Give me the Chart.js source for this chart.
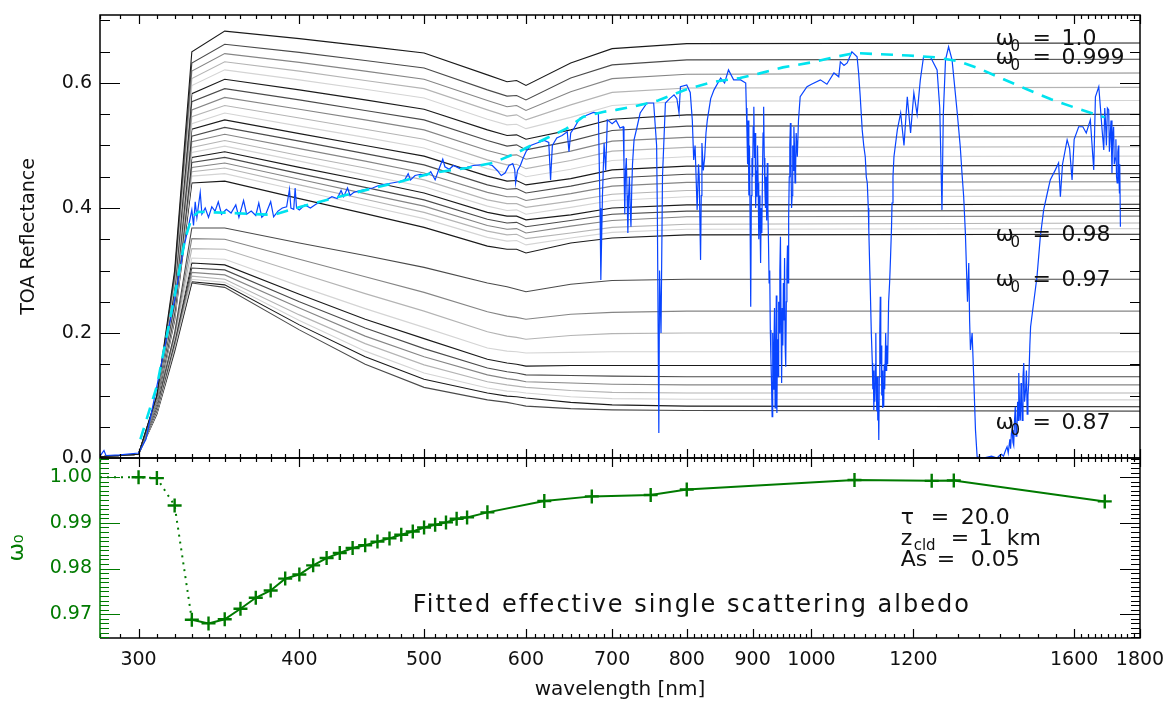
<!DOCTYPE html>
<html>
<head>
<meta charset="utf-8">
<script src="https://cdn.jsdelivr.net/npm/chart.js@4"></script>
<style>
  html, body { margin: 0; padding: 0; background: #fff; }
  canvas { display: block; }
</style>
</head>
<body>
<canvas id="albedo-chart" width="1164" height="705"></canvas>
<script>
// wavelengths of the modelled curves [nm]
const modelWl = [280, 300, 310, 320, 330, 350, 400, 450, 500, 560, 580, 590, 600, 650, 700, 800, 1800];

// modelled TOA reflectance, one curve per single scattering albedo
const r1000 = [0.002, 0.006, 0.100, 0.300, 0.650, 0.683, 0.671, 0.659, 0.648, 0.613, 0.602, 0.604, 0.596, 0.632, 0.655, 0.663, 0.664];
const r999  = [0.002, 0.006, 0.099, 0.293, 0.632, 0.662, 0.649, 0.636, 0.624, 0.589, 0.579, 0.580, 0.573, 0.608, 0.629, 0.637, 0.638];
const r998  = [0.002, 0.006, 0.099, 0.288, 0.619, 0.647, 0.633, 0.619, 0.606, 0.572, 0.562, 0.564, 0.556, 0.586, 0.607, 0.614, 0.616];
const r997  = [0.002, 0.006, 0.098, 0.284, 0.607, 0.634, 0.619, 0.604, 0.591, 0.557, 0.547, 0.549, 0.541, 0.565, 0.585, 0.592, 0.593];
const r996  = [0.002, 0.006, 0.097, 0.279, 0.596, 0.621, 0.605, 0.590, 0.576, 0.542, 0.533, 0.534, 0.527, 0.545, 0.564, 0.571, 0.572];
const r995  = [0.002, 0.006, 0.097, 0.274, 0.583, 0.606, 0.589, 0.573, 0.558, 0.525, 0.516, 0.517, 0.510, 0.525, 0.542, 0.549, 0.550];
const r994  = [0.002, 0.006, 0.096, 0.269, 0.570, 0.591, 0.573, 0.556, 0.541, 0.508, 0.499, 0.501, 0.493, 0.507, 0.524, 0.531, 0.532];
const r993  = [0.002, 0.006, 0.095, 0.265, 0.557, 0.577, 0.558, 0.541, 0.525, 0.492, 0.484, 0.485, 0.478, 0.491, 0.507, 0.513, 0.514];
const r992  = [0.002, 0.006, 0.095, 0.260, 0.546, 0.564, 0.544, 0.526, 0.510, 0.477, 0.469, 0.470, 0.463, 0.476, 0.491, 0.497, 0.498];
const r991  = [0.002, 0.006, 0.094, 0.256, 0.535, 0.552, 0.531, 0.513, 0.496, 0.463, 0.456, 0.457, 0.450, 0.462, 0.476, 0.482, 0.483];
const r990  = [0.002, 0.006, 0.094, 0.253, 0.526, 0.541, 0.519, 0.500, 0.483, 0.451, 0.443, 0.444, 0.437, 0.447, 0.461, 0.467, 0.468];
const r989  = [0.002, 0.006, 0.093, 0.249, 0.515, 0.529, 0.507, 0.487, 0.469, 0.437, 0.430, 0.431, 0.424, 0.435, 0.448, 0.454, 0.455];
const r988  = [0.002, 0.006, 0.092, 0.245, 0.506, 0.518, 0.495, 0.475, 0.456, 0.425, 0.418, 0.418, 0.412, 0.423, 0.435, 0.441, 0.442];
const r987  = [0.002, 0.006, 0.091, 0.242, 0.497, 0.508, 0.484, 0.464, 0.445, 0.413, 0.407, 0.407, 0.401, 0.411, 0.422, 0.428, 0.429];
const r986  = [0.002, 0.006, 0.090, 0.239, 0.489, 0.499, 0.475, 0.453, 0.434, 0.403, 0.396, 0.397, 0.390, 0.401, 0.412, 0.418, 0.419];
const r985  = [0.002, 0.006, 0.089, 0.236, 0.481, 0.490, 0.465, 0.444, 0.424, 0.393, 0.387, 0.387, 0.381, 0.389, 0.400, 0.405, 0.406];
const r984  = [0.002, 0.006, 0.088, 0.233, 0.473, 0.481, 0.455, 0.433, 0.413, 0.382, 0.376, 0.377, 0.370, 0.380, 0.390, 0.395, 0.396];
const r983  = [0.002, 0.006, 0.087, 0.230, 0.465, 0.472, 0.446, 0.423, 0.403, 0.372, 0.366, 0.367, 0.360, 0.371, 0.380, 0.386, 0.387];
const r982  = [0.002, 0.006, 0.086, 0.227, 0.458, 0.464, 0.437, 0.414, 0.393, 0.363, 0.357, 0.358, 0.351, 0.360, 0.369, 0.374, 0.376];
const r981  = [0.002, 0.006, 0.086, 0.224, 0.451, 0.455, 0.428, 0.404, 0.383, 0.353, 0.347, 0.348, 0.341, 0.352, 0.361, 0.366, 0.367];
const r980  = [0.002, 0.006, 0.085, 0.220, 0.440, 0.443, 0.415, 0.391, 0.369, 0.339, 0.334, 0.334, 0.328, 0.344, 0.352, 0.357, 0.358];
const r970  = [0.002, 0.006, 0.082, 0.200, 0.368, 0.368, 0.344, 0.324, 0.305, 0.280, 0.274, 0.270, 0.266, 0.278, 0.284, 0.286, 0.286];
const r960  = [0.002, 0.006, 0.081, 0.197, 0.351, 0.350, 0.318, 0.290, 0.265, 0.234, 0.227, 0.225, 0.222, 0.230, 0.233, 0.235, 0.235];
const r950  = [0.002, 0.006, 0.080, 0.194, 0.335, 0.334, 0.296, 0.263, 0.235, 0.202, 0.195, 0.193, 0.190, 0.196, 0.199, 0.200, 0.200];
const r940  = [0.002, 0.006, 0.079, 0.191, 0.320, 0.318, 0.275, 0.239, 0.209, 0.176, 0.171, 0.170, 0.168, 0.169, 0.170, 0.170, 0.170];
const r930  = [0.002, 0.006, 0.078, 0.188, 0.312, 0.309, 0.262, 0.222, 0.191, 0.158, 0.152, 0.150, 0.147, 0.148, 0.148, 0.148, 0.148];
const r920  = [0.002, 0.006, 0.077, 0.185, 0.304, 0.301, 0.250, 0.208, 0.175, 0.144, 0.138, 0.136, 0.133, 0.132, 0.131, 0.130, 0.130];
const r910  = [0.002, 0.006, 0.076, 0.182, 0.297, 0.293, 0.240, 0.195, 0.162, 0.133, 0.127, 0.125, 0.122, 0.120, 0.118, 0.117, 0.117];
const r900  = [0.002, 0.006, 0.074, 0.179, 0.291, 0.286, 0.229, 0.183, 0.149, 0.122, 0.117, 0.115, 0.113, 0.108, 0.105, 0.104, 0.104];
const r890  = [0.002, 0.006, 0.073, 0.176, 0.286, 0.281, 0.220, 0.171, 0.136, 0.112, 0.107, 0.106, 0.104, 0.098, 0.095, 0.094, 0.093];
const r880  = [0.002, 0.006, 0.072, 0.173, 0.282, 0.277, 0.213, 0.162, 0.126, 0.104, 0.099, 0.098, 0.096, 0.089, 0.085, 0.083, 0.082];
const r870  = [0.002, 0.006, 0.070, 0.170, 0.280, 0.273, 0.205, 0.150, 0.113, 0.093, 0.089, 0.086, 0.083, 0.079, 0.077, 0.076, 0.075];

const modelCurves = [r1000, r999, r998, r997, r996, r995, r994, r993, r992, r991, r990,
  r989, r988, r987, r986, r985, r984, r983, r982, r981, r980,
  r970, r960, r950, r940, r930, r920, r910, r900, r890, r880, r870];

// measured spectrum [wavelength nm, reflectance]
const measuredSpectrum = [
  [280, 0.003], [282, 0.012], [283, 0.004], [290, 0.005], [300, 0.008], [304, 0.030], [310, 0.115], [316, 0.200],
  [320, 0.253], [325, 0.333], [328, 0.370], [330, 0.397], [331, 0.372], [332, 0.410], [333, 0.385], [335, 0.425],
  [336, 0.390], [338, 0.400], [340, 0.385], [342, 0.402], [344, 0.395], [346, 0.410], [348, 0.390], [351, 0.398],
  [354, 0.392], [357, 0.405], [359, 0.385], [362, 0.412], [364, 0.390], [367, 0.395], [370, 0.388], [372, 0.408],
  [374, 0.385], [377, 0.392], [380, 0.410], [382, 0.386], [385, 0.395], [388, 0.400], [391, 0.402], [393, 0.430],
  [394, 0.400], [396, 0.398], [397, 0.432], [398, 0.400], [400, 0.397], [404, 0.405], [408, 0.400], [412, 0.406],
  [416, 0.410], [420, 0.413], [424, 0.418], [428, 0.415], [431, 0.428], [433, 0.418], [436, 0.432], [438, 0.420],
  [441, 0.425], [446, 0.428], [451, 0.430], [456, 0.432], [461, 0.436], [466, 0.438], [472, 0.440], [478, 0.442],
  [483, 0.445], [486, 0.455], [488, 0.445], [492, 0.452], [497, 0.454], [502, 0.452], [506, 0.458], [510, 0.445],
  [513, 0.460], [517, 0.478], [519, 0.466], [523, 0.462], [527, 0.468], [533, 0.463], [540, 0.465], [546, 0.468],
  [553, 0.469], [560, 0.470], [565, 0.468], [570, 0.460], [574, 0.452], [578, 0.456], [582, 0.468], [586, 0.471],
  [588, 0.462], [589, 0.440], [591, 0.460], [594, 0.468], [597, 0.480], [600, 0.490], [605, 0.500], [612, 0.504],
  [620, 0.508], [625, 0.505], [627, 0.445], [629, 0.500], [634, 0.512], [640, 0.516], [646, 0.522], [648, 0.490],
  [650, 0.520], [654, 0.528], [661, 0.544], [668, 0.548], [677, 0.553], [683, 0.552], [685, 0.400], [686, 0.285],
  [688, 0.420], [690, 0.504], [692, 0.460], [694, 0.541], [700, 0.535], [705, 0.540], [710, 0.528], [714, 0.530],
  [715, 0.470], [716, 0.390], [717, 0.460], [718, 0.480], [719, 0.420], [720, 0.360], [721, 0.420], [722, 0.450],
  [723, 0.400], [724, 0.370], [725, 0.430], [726, 0.470], [727, 0.490], [728, 0.509], [732, 0.530], [736, 0.552],
  [745, 0.568], [754, 0.568], [758, 0.500], [759, 0.392], [761, 0.040], [762, 0.300], [764, 0.200], [766, 0.450],
  [770, 0.568], [776, 0.575], [782, 0.581], [786, 0.575], [789, 0.552], [791, 0.594], [800, 0.597], [805, 0.585],
  [808, 0.540], [810, 0.477], [812, 0.500], [815, 0.397], [817, 0.470], [818, 0.450], [820, 0.317], [821, 0.420],
  [822, 0.504], [824, 0.460], [826, 0.480], [828, 0.520], [830, 0.541], [835, 0.575], [840, 0.589], [850, 0.608],
  [856, 0.600], [862, 0.621], [870, 0.605], [881, 0.605], [889, 0.600], [890, 0.560], [891, 0.520], [892, 0.470],
  [893, 0.540], [894, 0.420], [895, 0.500], [896, 0.380], [897, 0.242], [898, 0.420], [899, 0.480], [900, 0.450],
  [901, 0.530], [902, 0.562], [903, 0.480], [904, 0.520], [905, 0.400], [906, 0.460], [907, 0.418], [908, 0.500],
  [909, 0.440], [910, 0.350], [911, 0.420], [912, 0.380], [913, 0.312], [914, 0.400], [915, 0.360], [916, 0.450],
  [917, 0.520], [918, 0.562], [919, 0.480], [920, 0.430], [921, 0.400], [922, 0.450], [923, 0.380], [924, 0.472],
  [925, 0.400], [926, 0.344], [927, 0.280], [928, 0.300], [929, 0.205], [930, 0.160], [931, 0.120], [932, 0.066],
  [933, 0.200], [934, 0.110], [935, 0.170], [936, 0.240], [937, 0.080], [938, 0.150], [939, 0.260], [940, 0.072],
  [941, 0.190], [942, 0.130], [943, 0.250], [944, 0.200], [945, 0.300], [946, 0.354], [947, 0.220], [948, 0.120],
  [949, 0.240], [950, 0.180], [951, 0.280], [952, 0.220], [953, 0.320], [954, 0.180], [955, 0.146], [956, 0.250],
  [957, 0.300], [958, 0.340], [959, 0.280], [960, 0.386], [961, 0.450], [962, 0.500], [963, 0.536], [964, 0.470],
  [965, 0.400], [966, 0.420], [967, 0.500], [968, 0.460], [969, 0.530], [970, 0.500], [971, 0.440], [972, 0.460],
  [973, 0.520], [975, 0.482], [977, 0.540], [980, 0.578], [992, 0.594], [1000, 0.598], [1016, 0.605], [1028, 0.598],
  [1041, 0.616], [1050, 0.610], [1053, 0.634], [1060, 0.628], [1066, 0.632], [1075, 0.650], [1085, 0.642], [1088, 0.616],
  [1091, 0.580], [1095, 0.525], [1098, 0.500], [1101, 0.482], [1103, 0.450], [1105, 0.440], [1107, 0.400], [1108, 0.365],
  [1110, 0.300], [1111, 0.269], [1113, 0.200], [1115, 0.152], [1116, 0.110], [1117, 0.140], [1118, 0.077], [1119, 0.120],
  [1120, 0.090], [1121, 0.150], [1122, 0.200], [1123, 0.110], [1124, 0.075], [1125, 0.130], [1126, 0.060], [1127, 0.090],
  [1128, 0.029], [1129, 0.130], [1130, 0.200], [1131, 0.258], [1132, 0.150], [1133, 0.180], [1134, 0.100], [1135, 0.140],
  [1136, 0.080], [1137, 0.120], [1138, 0.082], [1139, 0.150], [1140, 0.110], [1142, 0.200], [1143, 0.140], [1144, 0.180],
  [1146, 0.150], [1148, 0.250], [1150, 0.280], [1152, 0.322], [1154, 0.370], [1155, 0.408], [1157, 0.450], [1159, 0.482],
  [1166, 0.525], [1173, 0.552], [1180, 0.500], [1187, 0.578], [1194, 0.520], [1201, 0.584], [1208, 0.550], [1215, 0.605],
  [1222, 0.642], [1237, 0.642], [1252, 0.621], [1258, 0.560], [1263, 0.397], [1266, 0.550], [1271, 0.637], [1278, 0.658],
  [1286, 0.637], [1298, 0.552], [1305, 0.498], [1309, 0.456], [1313, 0.418], [1317, 0.360], [1322, 0.250], [1325, 0.312],
  [1327, 0.220], [1329, 0.173], [1333, 0.200], [1337, 0.125], [1341, 0.045], [1345, 0.002], [1360, 0.000], [1380, 0.003],
  [1394, 0.000], [1400, 0.004], [1405, 0.006], [1410, 0.003], [1415, 0.012], [1419, 0.018], [1422, 0.008], [1426, 0.030],
  [1428, 0.015], [1430, 0.040], [1432, 0.045], [1434, 0.025], [1436, 0.020], [1438, 0.060], [1440, 0.082], [1442, 0.035],
  [1444, 0.040], [1446, 0.090], [1448, 0.060], [1449, 0.136], [1451, 0.080], [1453, 0.060], [1455, 0.120], [1456, 0.100],
  [1458, 0.060], [1460, 0.130], [1462, 0.152], [1464, 0.090], [1467, 0.110], [1469, 0.140], [1471, 0.070], [1473, 0.100],
  [1475, 0.120], [1478, 0.180], [1480, 0.210], [1488, 0.248], [1497, 0.290], [1506, 0.354], [1515, 0.397], [1525, 0.424],
  [1533, 0.445], [1547, 0.461], [1556, 0.472], [1561, 0.418], [1567, 0.470], [1580, 0.509], [1587, 0.495], [1594, 0.445],
  [1600, 0.510], [1613, 0.530], [1625, 0.530], [1635, 0.520], [1647, 0.541], [1657, 0.461], [1662, 0.578], [1672, 0.594],
  [1677, 0.560], [1682, 0.525], [1687, 0.493], [1690, 0.560], [1692, 0.540], [1695, 0.500], [1698, 0.560], [1702, 0.557],
  [1704, 0.490], [1707, 0.520], [1709, 0.540], [1712, 0.456], [1714, 0.510], [1717, 0.530], [1719, 0.470], [1722, 0.480],
  [1724, 0.510], [1726, 0.450], [1728, 0.440], [1730, 0.490], [1732, 0.500], [1733, 0.460], [1735, 0.424], [1736, 0.470],
  [1738, 0.370]
];

// continuum through the window points (dashed cyan)
const continuum = [
  [301, 0.030], [310, 0.115], [320, 0.260], [326, 0.350], [330, 0.385], [334, 0.394], [354, 0.392], [382, 0.389],
  [401, 0.402], [426, 0.416], [451, 0.429], [479, 0.442], [507, 0.456], [540, 0.464], [565, 0.472], [590, 0.488],
  [600, 0.496], [620, 0.510], [645, 0.527], [665, 0.546], [690, 0.554], [705, 0.557], [730, 0.563], [760, 0.572],
  [800, 0.590], [840, 0.602], [880, 0.608], [910, 0.615], [950, 0.625], [1000, 0.633], [1040, 0.641], [1080, 0.648],
  [1130, 0.646], [1190, 0.644], [1250, 0.641], [1300, 0.635], [1350, 0.623], [1410, 0.606], [1470, 0.590], [1535, 0.574],
  [1600, 0.561], [1690, 0.545]
];

// fitted effective single scattering albedo (lower panel)
const omegaWl  = [280, 300, 310, 320, 330, 340, 350, 360, 370, 380, 390, 400, 410, 420, 430, 440, 450, 460,
                  470, 480, 490, 500, 510, 520, 530, 540, 560, 620, 675, 750, 800, 1080, 1240, 1290, 1690];
const omegaFit = [1.0000, 1.0000, 0.9998, 0.9938, 0.9688, 0.9680, 0.9689, 0.9712, 0.9736, 0.9752, 0.9778, 0.9787,
                  0.9807, 0.9823, 0.9834, 0.9845, 0.9851, 0.9859, 0.9866, 0.9874, 0.9881, 0.9890, 0.9896, 0.9901,
                  0.9909, 0.9912, 0.9923, 0.9948, 0.9958, 0.9961, 0.9973, 0.9994, 0.9992, 0.9993, 0.9947];

// axis ticks
const xTickValues = [300, 400, 500, 600, 700, 800, 900, 1000, 1200, 1600, 1800];
const reflTicks = [0.0, 0.2, 0.4, 0.6];
const omegaTicks = [0.97, 0.98, 0.99, 1.00];

// curve labels
const curveLabels = [
  { text: '1.0', y: 0.670 },
  { text: '0.999', y: 0.640 },
  { text: '0.98', y: 0.357 },
  { text: '0.97', y: 0.285 },
  { text: '0.87', y: 0.056 }
];

const greys = ['#1a1a1a', '#4a4a4a', '#858585', '#b4b4b4', '#d4d4d4'];
const green = '#007a00';
const fontFamily = '"DejaVu Sans", "Liberation Sans", sans-serif';
Chart.defaults.font.family = fontFamily;

// minor ticks of the wavelength axis
const xMinorTicks = [];
for (let w = 280; w < 1000; w += 10) xMinorTicks.push(w);
for (let w = 1020; w < 1200; w += 20) xMinorTicks.push(w);
for (let w = 1250; w < 1600; w += 50) xMinorTicks.push(w);
for (let w = 1620; w < 1800; w += 20) xMinorTicks.push(w);

const datasets = [];
datasets.push({
  data: omegaWl.map((w, k) => ({ x: w, y: omegaFit[k] })),
  yAxisID: 'yOmega',
  borderColor: green,
  borderWidth: 2,
  pointStyle: 'cross',
  pointRadius: ctx => ctx.dataIndex === 0 ? 0 : 7,
  pointBorderColor: green,
  pointBorderWidth: 2.4,
  segment: { borderDash: ctx => ctx.p1DataIndex <= 4 ? [2, 5] : undefined },
  order: 0
});
datasets.push({
  data: continuum.map(p => ({ x: p[0], y: p[1] })),
  yAxisID: 'y',
  borderColor: '#00e3ee',
  borderWidth: 2.6,
  borderDash: [12, 9],
  pointRadius: 0,
  order: 1
});
datasets.push({
  data: measuredSpectrum.map(p => ({ x: p[0], y: p[1] })),
  yAxisID: 'y',
  borderColor: '#0844ff',
  borderWidth: 1.2,
  pointRadius: 0,
  order: 2
});
modelCurves.forEach((vals, i) => {
  datasets.push({
    data: vals.map((v, k) => ({ x: modelWl[k], y: v })),
    yAxisID: 'y',
    borderColor: greys[i % 5],
    borderWidth: 1.1,
    pointRadius: 0,
    order: 3
  });
});

// IDL-style frame with inward ticks on every side
const idlFrame = {
  id: 'idlFrame',
  afterDraw(chart) {
    const { ctx, chartArea: { left, right }, scales: { x, y, yOmega } } = chart;
    ctx.save();
    ctx.lineWidth = 1.2;
    ctx.strokeStyle = '#000';
    ctx.beginPath();
    const edges = [[y.top, 1], [y.bottom, -1], [yOmega.top, 1], [yOmega.bottom, -1]];
    for (const [edge, dir] of edges) {
      for (const v of xMinorTicks) {
        const px = Math.round(x.getPixelForValue(v)) + 0.5;
        ctx.moveTo(px, edge); ctx.lineTo(px, edge + dir * 4);
      }
      for (const v of xTickValues) {
        const px = Math.round(x.getPixelForValue(v)) + 0.5;
        ctx.moveTo(px, edge); ctx.lineTo(px, edge + dir * 9);
      }
    }
    for (let k = 1; k <= 14; k++) {
      const py = Math.round(y.getPixelForValue(k * 0.05)) + 0.5;
      const len = k % 4 === 0 ? 20 : 10;
      ctx.moveTo(left, py); ctx.lineTo(left + len, py);
      ctx.moveTo(right, py); ctx.lineTo(right - len, py);
    }
    for (let k = 965; k <= 1004; k++) {
      const py = Math.round(yOmega.getPixelForValue(k / 1000)) + 0.5;
      const len = k % 10 === 0 ? 20 : 9;
      ctx.moveTo(right, py); ctx.lineTo(right - len, py);
    }
    ctx.stroke();

    ctx.lineWidth = 1.5;
    ctx.strokeRect(left, y.top, right - left, y.bottom - y.top);
    ctx.beginPath();
    ctx.moveTo(left, yOmega.top); ctx.lineTo(right, yOmega.top);
    ctx.lineTo(right, yOmega.bottom); ctx.lineTo(left, yOmega.bottom);
    ctx.stroke();

    ctx.strokeStyle = green;
    ctx.beginPath();
    ctx.moveTo(left, yOmega.top); ctx.lineTo(left, yOmega.bottom);
    ctx.stroke();
    ctx.lineWidth = 1.2;
    ctx.beginPath();
    for (let k = 965; k <= 1004; k++) {
      const py = Math.round(yOmega.getPixelForValue(k / 1000)) + 0.5;
      const len = k % 10 === 0 ? 20 : 9;
      ctx.moveTo(left, py); ctx.lineTo(left + len, py);
    }
    ctx.stroke();
    ctx.restore();
  }
};

// text annotations inside both panels
const annotations = {
  id: 'annotations',
  afterDraw(chart) {
    const { ctx, scales: { x, y, yOmega } } = chart;
    ctx.save();
    ctx.fillStyle = '#111';
    ctx.textBaseline = 'middle';
    const big = '22px ' + fontFamily;
    const small = '15px ' + fontFamily;

    const lx = x.getPixelForValue(1390);
    for (const lab of curveLabels) {
      const py = y.getPixelForValue(lab.y);
      ctx.font = big;
      ctx.fillText('ω', lx, py);
      ctx.font = small;
      ctx.fillText('0', lx + 15, py + 8);
      ctx.font = big;
      ctx.fillText('=', lx + 37, py);
      ctx.fillText(lab.text, lx + 66, py);
    }

    const tx = x.getPixelForValue(1173);
    ctx.font = big;
    let py = yOmega.getPixelForValue(0.9911);
    ctx.fillText('τ', tx, py);
    ctx.fillText('=', tx + 30, py);
    ctx.fillText('20.0', tx + 60, py);
    py = yOmega.getPixelForValue(0.9863);
    ctx.fillText('z', tx, py);
    ctx.font = small;
    ctx.fillText('cld', tx + 13, py + 6);
    ctx.font = big;
    ctx.fillText('=', tx + 50, py);
    ctx.fillText('1  km', tx + 78, py);
    py = yOmega.getPixelForValue(0.9819);
    ctx.fillText('As', tx, py);
    ctx.fillText('=', tx + 36, py);
    ctx.fillText('0.05', tx + 70, py);

    ctx.font = '24px ' + fontFamily;
    ctx.letterSpacing = '2px';
    ctx.fillText('Fitted effective single scattering albedo', x.getPixelForValue(490), yOmega.getPixelForValue(0.9718));
    ctx.restore();
  }
};

new Chart(document.getElementById('albedo-chart'), {
  type: 'line',
  data: { datasets },
  options: {
    responsive: false,
    animation: false,
    devicePixelRatio: 1,
    layout: { padding: { top: 15, right: 24, left: 0, bottom: 0 } },
    plugins: { legend: { display: false }, tooltip: { enabled: false } },
    elements: { line: { tension: 0 } },
    scales: {
      x: {
        type: 'logarithmic',
        min: 280,
        max: 1800,
        afterBuildTicks: s => { s.ticks = xTickValues.map(v => ({ value: v })); },
        afterFit: s => { s.height = 67; s.paddingLeft = 0; s.paddingRight = 0; },
        grid: { display: false, drawTicks: false },
        border: { display: false },
        ticks: { callback: v => String(v), autoSkip: false, maxRotation: 0, padding: 11, color: '#111', font: { size: 19 } },
        title: { display: true, text: 'wavelength [nm]', color: '#111', font: { size: 20 }, padding: { top: 0, bottom: 3 } }
      },
      yOmega: {
        type: 'linear',
        position: 'left',
        stack: 'panels',
        stackWeight: 180,
        min: 0.9648,
        max: 1.0042,
        afterBuildTicks: s => { s.ticks = omegaTicks.map(v => ({ value: v })); },
        afterFit: s => { s.width = 100; s.paddingTop = 0; s.paddingBottom = 0; },
        grid: { display: false, drawTicks: false },
        border: { display: false },
        ticks: { callback: v => v.toFixed(2), padding: 8, color: green, font: { size: 19 } },
        title: { display: true, text: 'ω₀', color: green, font: { size: 22 }, padding: { top: 4, bottom: 0 } }
      },
      y: {
        type: 'linear',
        position: 'left',
        stack: 'panels',
        stackWeight: 443,
        min: 0,
        max: 0.7088,
        afterBuildTicks: s => { s.ticks = reflTicks.map(v => ({ value: v })); },
        afterFit: s => { s.width = 100; s.paddingTop = 0; s.paddingBottom = 0; },
        grid: { display: false, drawTicks: false },
        border: { display: false },
        ticks: { callback: v => v.toFixed(1), padding: 8, color: '#111', font: { size: 19 } },
        title: { display: true, text: 'TOA Reflectance', color: '#111', font: { size: 19 }, padding: { top: 18, bottom: 0 } }
      }
    }
  },
  plugins: [idlFrame, annotations]
});
</script>
</body>
</html>
